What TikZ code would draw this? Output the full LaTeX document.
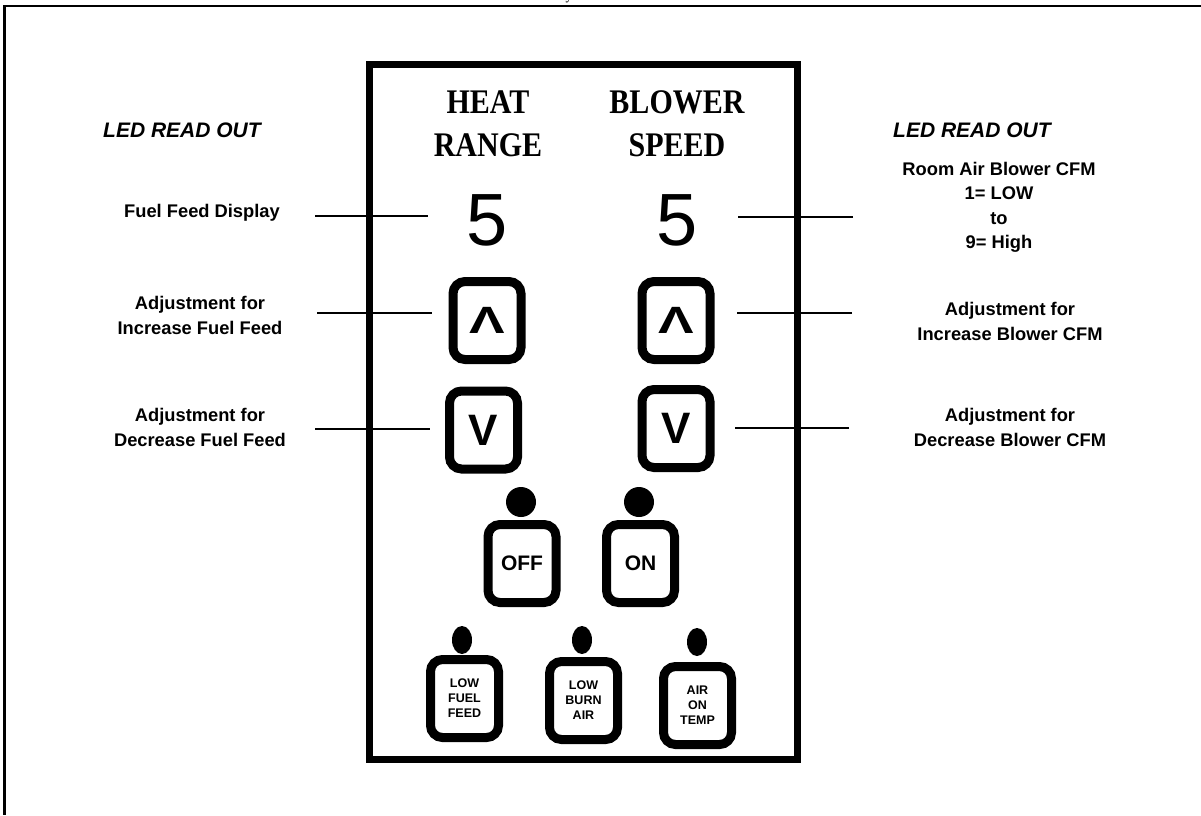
\documentclass[tikz,border=0pt]{standalone}
\usepackage{fontspec}
\setmainfont{Liberation Sans}
\newfontfamily\serifhead[FakeStretch=0.87]{Liberation Serif}
\newfontfamily\widekey[FakeStretch=1.4]{Liberation Sans}
\usetikzlibrary{shapes.geometric}

\begin{document}
\begin{tikzpicture}[
  x=1pt,y=-1pt,
  panel/.style={line width=7pt},
  rim/.style={line width=2.5pt},
  caption/.style={font=\fontsize{21}{21}\selectfont\bfseries\itshape,anchor=west,inner sep=0pt},
  note/.style={font=\fontsize{18.3}{24.5}\selectfont\bfseries,align=center,inner sep=0pt},
  head/.style={font=\serifhead\fontsize{34.5}{43}\selectfont\bfseries,align=center,inner sep=0pt},
  digit/.style={font=\fontsize{74}{74}\selectfont,inner sep=0pt},
  key/.style={rectangle,rounded corners=12pt,draw,line width=9pt,minimum width=68pt,minimum height=78pt,inner sep=0pt,align=center},
  arrowkey/.style={key,font=\widekey\fontsize{38}{38}\selectfont\bfseries},
  vkey/.style={key,font=\fontsize{44}{44}\selectfont\bfseries},
  bigkey/.style={key,font=\fontsize{21}{21}\selectfont\bfseries},
  smallkey/.style={key,font=\fontsize{12.5}{15}\selectfont\bfseries},
  led/.style={circle,fill,minimum size=30pt,inner sep=0pt},
  lamp/.style={ellipse,fill,minimum width=20pt,minimum height=28pt,inner sep=0pt},
  line/.style={line width=2pt}
]
  \useasboundingbox (0,0) rectangle (1201,815);
  \draw[rim] (1201,6) -- (4.5,6) -- (4.5,815);
  \node[font=\serifhead\fontsize{16}{16}\selectfont,anchor=base] (topy) at (569,-1) {y};

  \draw[panel] (369,64) rectangle (797,759);

  \node[head] (heat) at (488,123.5) {HEAT\\RANGE};
  \node[head] (blower) at (677,123.5) {BLOWER\\SPEED};
  \node[digit] (num1) at (487,220) {5};
  \node[digit] (num2) at (677,220) {5};

  \node[arrowkey] (up1) at (487,320.5) {Λ};
  \node[arrowkey] (up2) at (676,320.5) {Λ};
  \node[vkey] (dn1) at (483.5,430) {\raisebox{-3pt}{V}};
  \node[vkey] (dn2) at (676,428.5) {\raisebox{-3pt}{V}};

  \node[bigkey] (off) at (522,563.5) {\raisebox{-4pt}{OFF}};
  \node[bigkey] (on) at (640.5,563.5) {\raisebox{-4pt}{ON}};
  \node[led] (offled) at (521,502) {};
  \node[led] (onled) at (639,502) {};

  \node[smallkey] (lff) at (464.5,698.5) {LOW\\FUEL\\FEED};
  \node[smallkey] (lba) at (583.5,700.5) {LOW\\BURN\\AIR};
  \node[smallkey] (aot) at (697.5,705.5) {AIR\\ON\\TEMP};
  \node[lamp] (lffled) at (462,640) {};
  \node[lamp] (lbaled) at (582,640) {};
  \node[lamp] (aotled) at (697,642) {};

  \node[caption] (ledl) at (103,130) {LED READ OUT};
  \node[note] (fueldisp) at (202,213) {Fuel Feed Display};
  \node[note] (incfuel) at (200,315.5) {Adjustment for\\Increase Fuel Feed};
  \node[note] (decfuel) at (200,427.5) {Adjustment for\\Decrease Fuel Feed};

  \node[caption] (ledr) at (893,130) {LED READ OUT};
  \node[note] (roomair) at (999,207.5) {Room Air Blower CFM\\1= LOW\\to\\9= High};
  \node[note] (incblow) at (1010,321.5) {Adjustment for\\Increase Blower CFM};
  \node[note] (decblow) at (1010,427.5) {Adjustment for\\Decrease Blower CFM};

  \coordinate (l1) at (315,216);
  \coordinate (l2) at (317,313);
  \coordinate (l3) at (315,429);
  \coordinate (r1) at (853,217);
  \coordinate (r2) at (852,313);
  \coordinate (r3) at (849,428);
  \draw[line,shorten >=59pt] (l1) -- (l1 -| num1.center);
  \draw[line,shorten >=55pt] (l2) -- (l2 -| up1.center);
  \draw[line,shorten >=53.5pt] (l3) -- (l3 -| dn1.center);
  \draw[line,shorten >=61pt] (r1) -- (r1 -| num2.center);
  \draw[line,shorten >=61pt] (r2) -- (r2 -| up2.center);
  \draw[line,shorten >=59pt] (r3) -- (r3 -| dn2.center);
\end{tikzpicture}
\end{document}
